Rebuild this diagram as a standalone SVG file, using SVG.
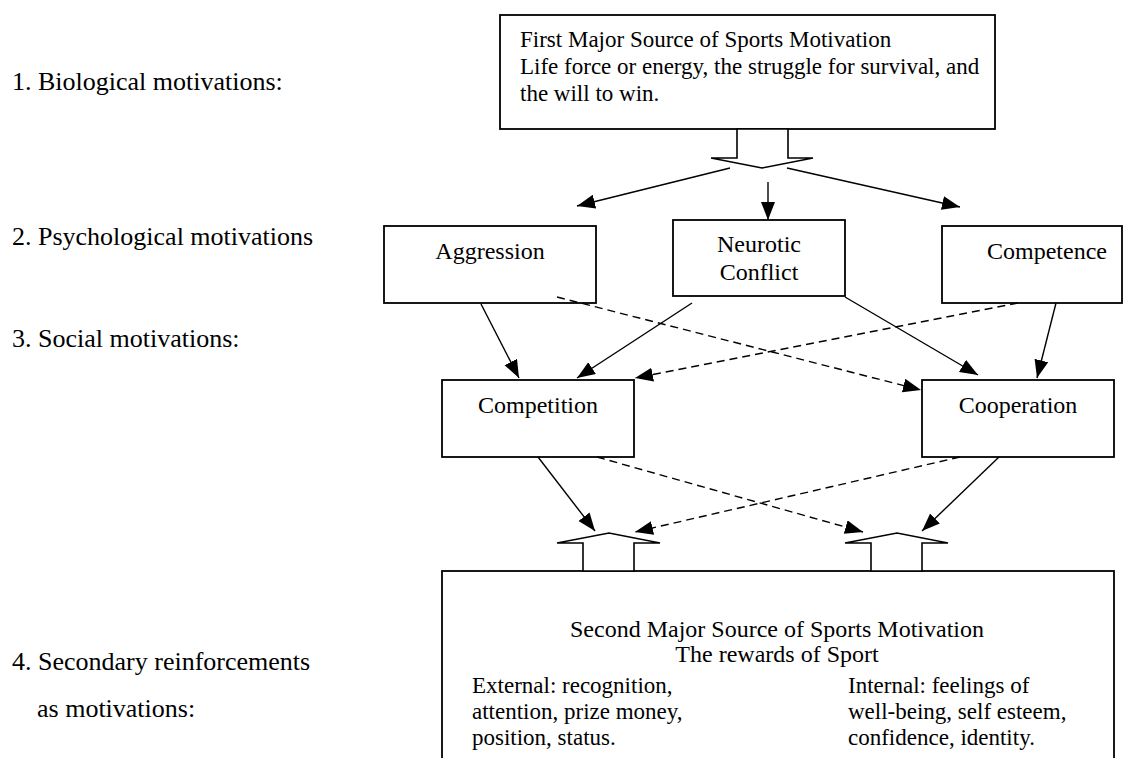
<svg xmlns="http://www.w3.org/2000/svg" width="1141" height="758" viewBox="0 0 1141 758">
<style>
text{font-family:"Liberation Serif","Times New Roman",serif;fill:#000}
.lbl{font-size:26px}
.bt{font-size:24px}
.tb{font-size:23px}
.c{text-anchor:middle}
.box{fill:#fff;stroke:#000;stroke-width:1.8}
.blk{fill:#fff;stroke:#000;stroke-width:1.6;stroke-linejoin:miter}
.ln{fill:none;stroke:#000;stroke-width:1.4}
.d{stroke-dasharray:8 5}
</style>
<defs>
<marker id="ah" markerUnits="userSpaceOnUse" markerWidth="20" markerHeight="16" refX="18" refY="7" orient="auto"><path d="M0,0 L18,7 L0,14 z" fill="#000"/></marker>
</defs>
<rect width="1141" height="758" fill="#fff"/>
<g id="labels">
<text class="lbl" x="12" y="90">1. Biological motivations:</text>
<text class="lbl" x="12" y="245">2. Psychological motivations</text>
<text class="lbl" x="12" y="347">3. Social motivations:</text>
<text class="lbl" x="12" y="670">4. Secondary reinforcements</text>
<text class="lbl" x="37" y="717">as motivations:</text>
</g>
<g id="first">
<rect class="box" x="500" y="15" width="495" height="114"/>
<text class="tb" x="520" y="47">First Major Source of Sports Motivation</text>
<text class="tb" x="520" y="74">Life force or energy, the struggle for survival, and</text>
<text class="tb" x="520" y="101">the will to win.</text>
<polygon class="blk" points="737,129 737,158 711,158 762,168 813,158 788,158 788,129"/>
</g>
<g id="aggression">
<rect class="box" x="384" y="226" width="212" height="77"/>
<text class="bt c" x="490" y="259">Aggression</text>
</g>
<g id="neurotic">
<rect class="box" x="673" y="220" width="172" height="76"/>
<text class="bt c" x="759" y="252">Neurotic</text>
<text class="bt c" x="759" y="280">Conflict</text>
</g>
<g id="competence">
<rect class="box" x="942" y="226" width="180" height="77"/>
<text class="bt c" x="1047" y="259">Competence</text>
</g>
<g id="competition">
<rect class="box" x="442" y="380" width="192" height="77"/>
<text class="bt c" x="538" y="413">Competition</text>
</g>
<g id="cooperation">
<rect class="box" x="922" y="380" width="192" height="77"/>
<text class="bt c" x="1018" y="413">Cooperation</text>
</g>
<g id="second">
<rect class="box" x="442" y="571" width="672" height="200"/>
<polygon class="blk" points="583,571 583,543 557,543 609,533 660,543 634,543 634,571"/>
<polygon class="blk" points="871,571 871,543 845,543 897,533 948,543 922,543 922,571"/>
<text class="bt c" x="777" y="637">Second Major Source of Sports Motivation</text>
<text class="bt c" x="777" y="662">The rewards of Sport</text>
<text class="tb" x="472" y="693">External: recognition,</text>
<text class="tb" x="472" y="719">attention, prize money,</text>
<text class="tb" x="472" y="745">position, status.</text>
<text class="tb" x="848" y="693">Internal: feelings of</text>
<text class="tb" x="848" y="719">well-being, self esteem,</text>
<text class="tb" x="848" y="745">confidence, identity.</text>
</g>
<g id="connectors">
<line class="ln" x1="730" y1="168" x2="577" y2="206" marker-end="url(#ah)"/>
<line class="ln" x1="768" y1="182" x2="768" y2="220" marker-end="url(#ah)"/>
<line class="ln" x1="787" y1="168" x2="960" y2="207" marker-end="url(#ah)"/>
<line class="ln" x1="481" y1="304" x2="519" y2="378" marker-end="url(#ah)"/>
<line class="ln" x1="692" y1="303" x2="577" y2="378" marker-end="url(#ah)"/>
<line class="ln d" x1="557" y1="297" x2="921" y2="390" marker-end="url(#ah)"/>
<line class="ln d" x1="1018" y1="303" x2="635" y2="378" marker-end="url(#ah)"/>
<line class="ln" x1="845" y1="297" x2="978" y2="375" marker-end="url(#ah)"/>
<line class="ln" x1="1056" y1="303" x2="1037" y2="378" marker-end="url(#ah)"/>
<line class="ln" x1="538" y1="457" x2="595" y2="531" marker-end="url(#ah)"/>
<line class="ln d" x1="597" y1="457" x2="863" y2="532" marker-end="url(#ah)"/>
<line class="ln d" x1="960" y1="457" x2="635" y2="532" marker-end="url(#ah)"/>
<line class="ln" x1="999" y1="457" x2="922" y2="531" marker-end="url(#ah)"/>
</g>
</svg>
